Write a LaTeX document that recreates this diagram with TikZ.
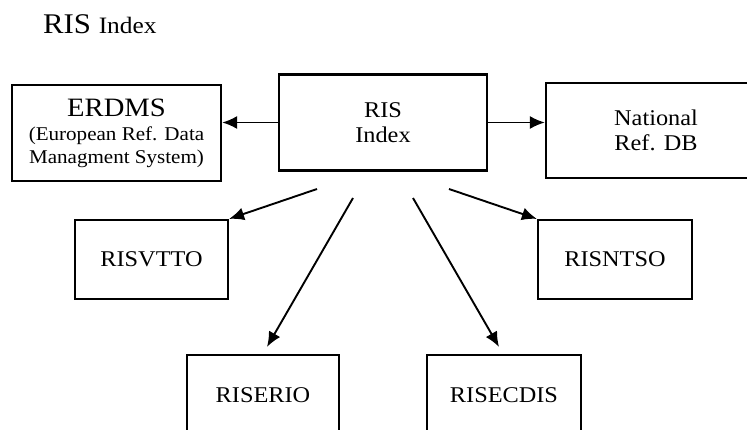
\documentclass[tikz,border=0pt]{standalone}
\usepackage{fontspec}
\setmainfont[FakeStretch=1.08]{Liberation Serif}
\usetikzlibrary{arrows.meta}
\begin{document}
\begin{tikzpicture}[x=1pt,y=-1pt,
  box/.style={draw,line width=2.2pt,rectangle,inner sep=0pt,align=center,
    font=\fontsize{22.5}{25}\selectfont},
  conn/.style={line width=1.9pt,-{Latex[length=15pt,width=13pt]}}]
\useasboundingbox (0,0) rectangle (747,430);
\node[anchor=base west,inner sep=0pt] (title) at (43,34)
  {\fontsize{28.5}{30}\selectfont RIS \fontsize{23.5}{25}\selectfont Index};
\node[box,minimum width=208pt,minimum height=96pt] (ris) at (383,122.5) {RIS\\Index};
\node[box,minimum width=209pt,minimum height=96pt] (erdms) at (116.5,133)
  {{\fontsize{26.5}{27}\selectfont ERDMS}\\[-1pt]
   {\fontsize{19.5}{21}\selectfont (European Ref. Data}\\[-2pt]
   {\fontsize{19.5}{21}\selectfont Managment System)}};
\node[box,minimum width=220pt,minimum height=95pt] (nat) at (656,130.5) {National\\Ref. DB};
\node[box,minimum width=153pt,minimum height=79pt] (vtto) at (151.5,259.5) {RISVTTO};
\node[box,minimum width=154pt,minimum height=79pt] (ntso) at (615,259.5) {RISNTSO};
\node[box,minimum width=152pt,minimum height=80pt] (serio) at (263,395) {RISERIO};
\node[box,minimum width=154pt,minimum height=80pt] (secdis) at (504,395) {RISECDIS};
\coordinate (s1) at (317,189);
\coordinate (s2) at (353,198);
\coordinate (s3) at (413,198);
\coordinate (s4) at (449,189);
\draw[conn] (ris.west) -- (ris.west -| erdms.east);
\draw[conn] (ris.east) -- (ris.east -| nat.west);
\draw[conn] (s1) -- (vtto.north east);
\draw[conn] (s2) -- ([xshift=4pt,yshift=7pt]serio.north);
\draw[conn] (s3) -- ([xshift=-5pt,yshift=7pt]secdis.north);
\draw[conn] (s4) -- (ntso.north west);
\end{tikzpicture}
\end{document}
